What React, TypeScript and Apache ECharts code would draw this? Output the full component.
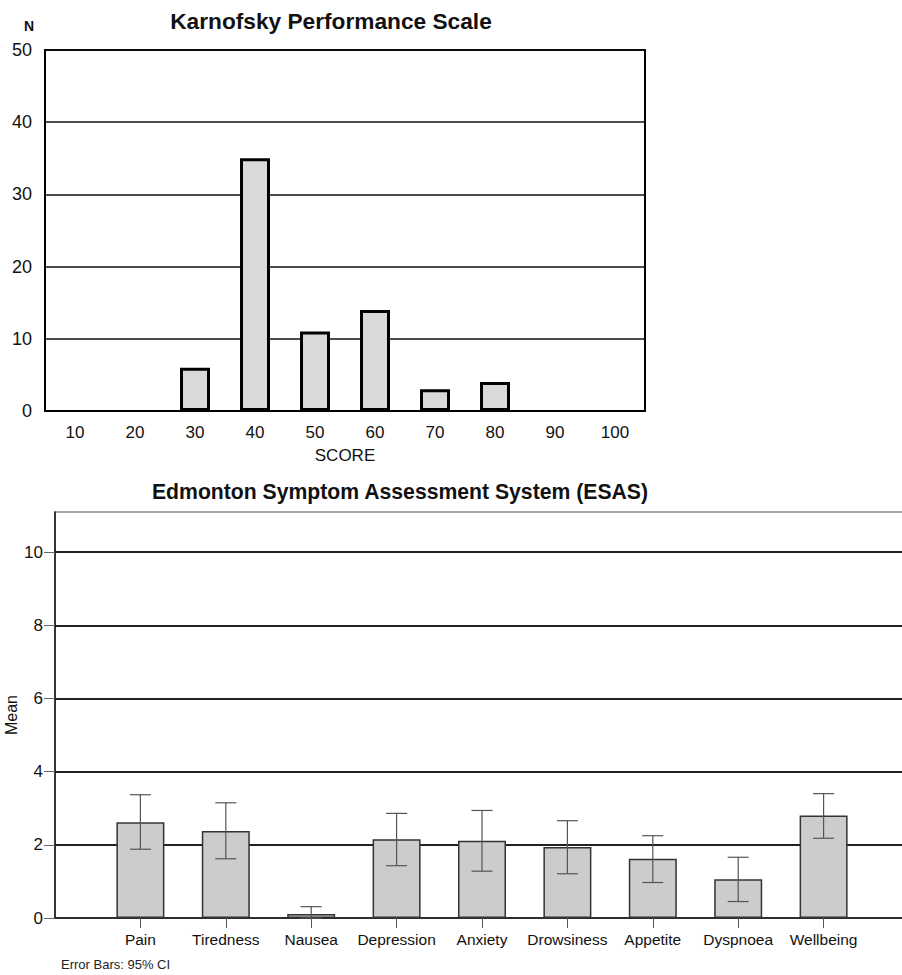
import React, { useEffect, useRef } from "react";
import * as echarts from "echarts";

const kpsScores = ["10", "20", "30", "40", "50", "60", "70", "80", "90", "100"];
const kpsCounts = [0, 0, 6, 35, 11, 14, 3, 4, 0, 0];

const esasItems = ["Pain", "Tiredness", "Nausea", "Depression", "Anxiety", "Drowsiness", "Appetite", "Dyspnoea", "Wellbeing"];
const esasMeans = [2.62, 2.38, 0.11, 2.15, 2.11, 1.94, 1.62, 1.06, 2.8];
const esasLower = [1.88, 1.62, 0.0, 1.43, 1.28, 1.21, 0.97, 0.45, 2.18];
const esasUpper = [3.37, 3.15, 0.31, 2.86, 2.94, 2.66, 2.25, 1.66, 3.4];
const esasTicks = [0, 2, 4, 6, 8, 10];

const FONT = "Liberation Sans, Arial, sans-serif";

export default function App() {
  const ref = useRef<HTMLDivElement>(null);
  useEffect(() => {
    if (!ref.current) return;
    const chart = echarts.init(ref.current, undefined, { renderer: "svg" });
    const itemIdx = esasItems.map((_, i) => i);
    const option: any = {
      animation: false,
      backgroundColor: "#ffffff",
      textStyle: { fontFamily: FONT, color: "#000" },
      title: [
        {
          text: "Karnofsky Performance Scale",
          left: 326,
          top: 4,
          textAlign: "center",
          textStyle: { fontFamily: FONT, fontSize: 22.7, fontWeight: "bold", color: "#111" },
        },
        {
          text: "Edmonton Symptom Assessment System (ESAS)",
          left: 395,
          top: 476,
          textAlign: "center",
          textStyle: { fontFamily: FONT, fontSize: 21.2, fontWeight: "bold", color: "#111" },
        },
        {
          text: "Error Bars: 95% CI",
          left: 56,
          top: 953,
          textStyle: { fontFamily: FONT, fontSize: 13, fontWeight: "normal", color: "#222" },
        },
      ],
      grid: [
        { left: 45, top: 50, width: 600, height: 361, show: true, borderColor: "#000", borderWidth: 2, backgroundColor: "transparent", outerBoundsMode: "none", containLabel: false },
        { left: 55, top: 512, width: 854, height: 406, show: true, borderColor: "#888", borderWidth: 1.5, backgroundColor: "transparent", outerBoundsMode: "none", containLabel: false },
      ],
      xAxis: [
        {
          gridIndex: 0,
          type: "category",
          data: kpsScores,
          boundaryGap: true,
          axisLine: { show: true, lineStyle: { color: "#000", width: 2 } },
          axisTick: { show: false },
          axisLabel: { fontFamily: FONT, fontSize: 17, color: "#111", margin: 13 },
          name: "SCORE",
          nameLocation: "middle",
          nameGap: 36,
          nameMoveOverlap: false,
          nameTextStyle: { fontFamily: FONT, fontSize: 17, color: "#111" },
        },
        {
          gridIndex: 1,
          type: "value",
          min: -1,
          max: 9,
          interval: 1,
          axisLine: { show: true, onZero: false, lineStyle: { color: "#333", width: 1.5 } },
          axisTick: { show: true, length: 10, customValues: itemIdx, lineStyle: { color: "#555", width: 1 } },
          splitLine: { show: false },
          axisLabel: {
            fontFamily: FONT,
            fontSize: 15.5,
            color: "#111",
            margin: 13,
            customValues: itemIdx,
            formatter: (v: number) => (v >= 0 && v < esasItems.length ? esasItems[v] : ""),
          },
        },
      ],
      yAxis: [
        {
          gridIndex: 0,
          type: "value",
          min: 0,
          max: 50,
          interval: 10,
          axisLine: { show: true, lineStyle: { color: "#000", width: 2 } },
          axisTick: { show: false },
          splitLine: { show: true, lineStyle: { color: "#111", width: 1.5 } },
          axisLabel: { fontFamily: FONT, fontSize: 18, color: "#111", margin: 13 },
          name: "N",
          nameLocation: "end",
          nameGap: 17,
          nameTextStyle: { fontFamily: FONT, fontSize: 14, fontWeight: "bold", color: "#111", align: "right", padding: [0, 11, 0, 0] },
        },
        {
          gridIndex: 1,
          type: "value",
          min: 0,
          max: 11.1,
          interval: 2,
          axisLine: { show: true, onZero: false, lineStyle: { color: "#111", width: 1.5 } },
          axisTick: { show: true, length: 11, customValues: esasTicks, lineStyle: { color: "#666", width: 1 } },
          splitLine: { show: true, lineStyle: { color: "#222", width: 1.8 } },
          axisLabel: { fontFamily: FONT, fontSize: 17, color: "#111", margin: 12, customValues: esasTicks },
          name: "Mean",
          nameLocation: "middle",
          nameGap: 36,
          nameMoveOverlap: false,
          nameTextStyle: { fontFamily: FONT, fontSize: 16, color: "#111" },
        },
      ],
      series: [
        {
          type: "bar",
          xAxisIndex: 0,
          yAxisIndex: 0,
          data: kpsCounts.map((v) => (v === 0 ? { value: v, itemStyle: { borderWidth: 0 } } : v)),
          barWidth: 30,
          itemStyle: { color: "#d9d9d9", borderColor: "#000", borderWidth: 3 },
        },
        {
          type: "bar",
          xAxisIndex: 1,
          yAxisIndex: 1,
          data: esasMeans.map((m, i) => [i, m]),
          barWidth: 48,
          itemStyle: { color: "#cccccc", borderColor: "#333", borderWidth: 1.5 },
          z: 2,
        },
        {
          type: "custom",
          xAxisIndex: 1,
          yAxisIndex: 1,
          data: esasItems.map((_, i) => [i, esasLower[i], esasUpper[i]]),
          z: 5,
          renderItem: (params: any, api: any) => {
            const x = api.value(0);
            const lo = api.coord([x, api.value(1)]);
            const hi = api.coord([x, api.value(2)]);
            const half = 10.5;
            const style = { stroke: "#555", lineWidth: 1.2 };
            return {
              type: "group",
              children: [
                { type: "line", shape: { x1: lo[0], y1: lo[1], x2: hi[0], y2: hi[1] }, style },
                { type: "line", shape: { x1: hi[0] - half, y1: hi[1], x2: hi[0] + half, y2: hi[1] }, style },
                { type: "line", shape: { x1: lo[0] - half, y1: lo[1], x2: lo[0] + half, y2: lo[1] }, style },
              ],
            };
          },
        },
      ],
    };
    chart.setOption(option);
    return () => chart.dispose();
  }, []);
  return <div ref={ref} style={{ position: "absolute", left: 0, top: 0, width: 902, height: 975 }} />;
}
